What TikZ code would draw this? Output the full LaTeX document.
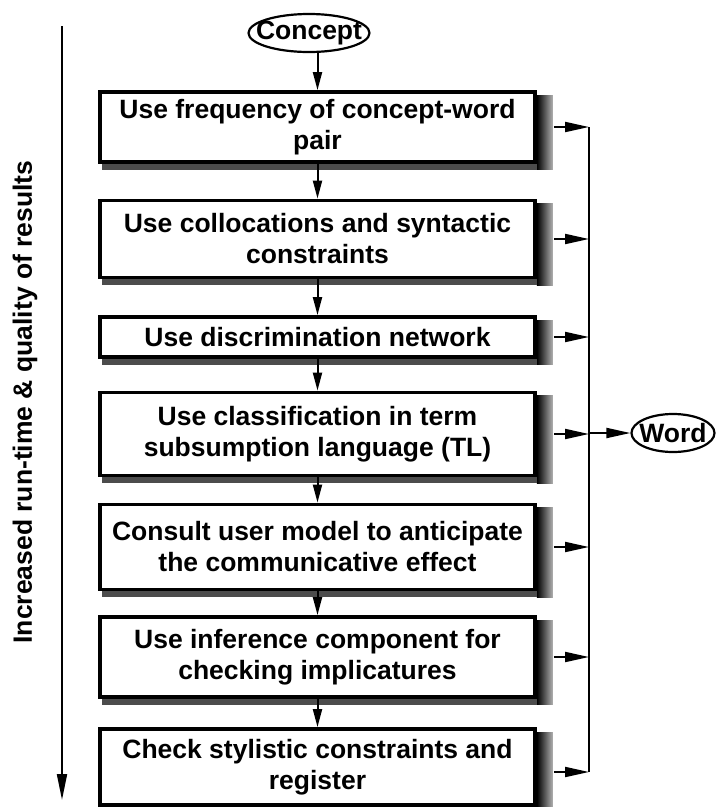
\documentclass[tikz,border=0pt]{standalone}
\usepackage{fontspec}
\setmainfont{Liberation Sans}
\usetikzlibrary{arrows.meta,shapes.geometric,backgrounds}
\begin{document}
\begin{tikzpicture}[x=1pt,y=-1pt,
  txt/.style={font=\fontsize{26.5}{31}\selectfont\bfseries},
  stepbox/.style={txt,draw,line width=3.8pt,fill=white,minimum width=435pt,align=center,inner sep=2pt},
  oval/.style={txt,draw,ellipse,line width=2.2pt,inner xsep=-12pt,inner ysep=0pt,minimum height=38pt},
  conn/.style={line width=2pt,-{Triangle[length=18pt,width=9pt]}},
  hconn/.style={line width=2pt,-{Triangle[length=24pt,width=10pt]}},
  lconn/.style={line width=2pt},
]
\useasboundingbox (0,0) rectangle (716,807);

% start and end ovals
\node[oval,minimum width=121pt] (concept) at (309,33) {Concept};
\node[oval,minimum width=83pt] (word) at (673,433) {Word};

% steps
\node[stepbox,minimum height=70pt] (b1) at (317.5,127) {Use frequency of concept-word\\pair};
\node[stepbox,minimum height=77pt] (b2) at (317.5,239) {Use collocations and syntactic\\constraints};
\node[stepbox,minimum height=40pt] (b3) at (317.5,337) {Use discrimination network};
\node[stepbox,minimum height=83pt] (b4) at (317.5,434) {Use classification in term\\subsumption language (TL)};
\node[stepbox,minimum height=85pt] (b5) at (317.5,547) {Consult user model to anticipate\\the communicative effect};
\node[stepbox,minimum height=80pt] (b6) at (317.5,657) {Use inference component for\\checking implicatures};
\node[stepbox,minimum height=76pt] (b7) at (317.5,767) {Check stylistic constraints and\\register};

% shadows
\begin{scope}[on background layer]
\foreach \b in {b1,b2,b3,b4,b5,b6,b7}{
  \shade[left color=black,right color=black!30] ([yshift=-5pt]\b.north east) rectangle ([xshift=16pt,yshift=-6pt]\b.south east);
  \fill[black!70] ([xshift=4pt]\b.south west) rectangle ([yshift=-6pt]\b.south east);
}
\end{scope}

% vertical flow
\draw[conn] (concept.south -| b1.north) -- (b1.north);
\draw[conn] (b1.south) -- (b2.north);
\draw[conn] (b2.south) -- (b3.north);
\draw[conn] (b3.south) -- (b4.north);
\draw[conn] (b4.south) -- (b5.north);
\draw[conn] (b5.south) -- (b6.north);
\draw[conn] (b6.south) -- (b7.north);

% bus to the right
\coordinate (bus) at (589,0);
\foreach \b in {b1,b2,b3,b4,b5,b6}{
  \draw[hconn,shorten <=17pt] (\b.east) -- (\b.east -| bus);
}
\coordinate (b7out) at ([yshift=-5pt]b7.east);
\draw[hconn,shorten <=17pt] (b7out) -- (b7out -| bus);
\draw[lconn] (b1.east -| bus) -- (b7out -| bus);
\draw[hconn] (word.west -| bus) -- (word.west);

% left axis
\coordinate (axt) at (62,26);
\coordinate (axb) at (62,800);
\draw[line width=2pt,-{Triangle[length=26pt,width=10pt]}] (axt) -- (axb);
\node[txt,rotate=90] (axlabel) at (25,402) {Increased run-time \& quality of results};
\end{tikzpicture}
\end{document}
